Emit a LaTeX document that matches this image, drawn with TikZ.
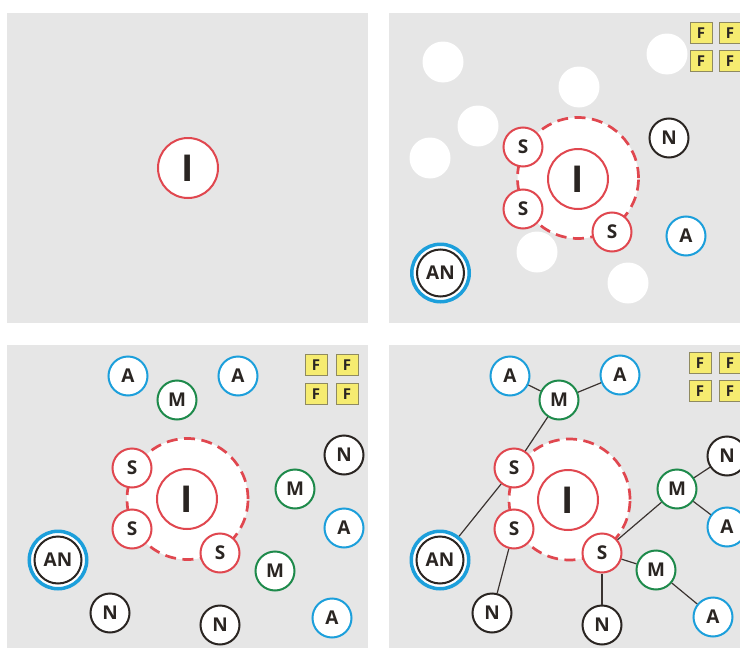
\documentclass[tikz,border=0pt]{standalone}
\usepackage{fontspec}
\setmainfont{Open Sans}
\definecolor{pbg}{HTML}{E6E6E6}
\definecolor{cred}{HTML}{E0474F}
\definecolor{cblue}{HTML}{1C9FDB}
\definecolor{cgreen}{HTML}{1E8A4B}
\definecolor{cblack}{HTML}{2A2522}
\definecolor{cyel}{HTML}{F6EC70}
\definecolor{cyelb}{HTML}{8F8A60}
\definecolor{linec}{HTML}{3A3330}
\begin{document}
\begin{tikzpicture}[x=1pt,y=-1pt,
  nd/.style={circle, fill=white, line width=2pt, minimum size=39pt, inner sep=0pt, text=cblack, font=\bfseries\fontsize{19}{19}\selectfont},
  sn/.style={nd, draw=cred},
  mn/.style={nd, draw=cgreen},
  anode/.style={nd, draw=cblue},
  nn/.style={nd, draw=cblack},
  inode/.style={nd, draw=cred, minimum size=60pt, font=\bfseries\fontsize{37}{37}\selectfont},
  ghost/.style={circle, fill=white, minimum size=41pt, inner sep=0pt},
  ann/.style={nd, draw=cblue, line width=3.5pt, minimum size=57.5pt},
  annin/.style={draw=cblack, line width=2pt},
  anlabel/.style={text=cblack, inner sep=0pt, font=\bfseries\fontsize{19}{19}\selectfont},
  fbox/.style={rectangle, fill=cyel, draw=cyelb, line width=0.8pt, minimum width=22pt, minimum height=21pt, inner sep=0pt, text=cblack, font=\bfseries\fontsize{15}{15}\selectfont},
  zone/.style={circle, draw=cred, fill=white, line width=2.7pt, dash pattern=on 11pt off 6.5pt, minimum size=121pt, inner sep=0pt},
  link/.style={draw=linec, line width=1.2pt},
  panel/.style={fill=pbg}
]
\useasboundingbox (0,0) rectangle (740,648);
\clip (0,0) rectangle (740,648);
% panels
\fill[panel] (7,13) rectangle (368,323);
\fill[panel] (389,13) rectangle (740,323);
\fill[panel] (7,345) rectangle (368,648);
\fill[panel] (389,345) rectangle (740,648);

% ---------- panel 1 ----------
\node[inode] (i1) at (188,168) {I};

% ---------- panel 2 ----------
\node[ghost] (g1) at (443,62) {};
\node[ghost] (g2) at (579,87) {};
\node[ghost] (g3) at (478,126) {};
\node[ghost] (g4) at (430,158) {};
\node[ghost] (g5) at (667,54) {};
\node[ghost] (g6) at (537,252) {};
\node[ghost] (g7) at (628,283) {};
\node[zone] (z2) at (578,178) {};
\node[inode] (i2) at (578,179) {I};
\node[sn] (s21) at (523,147) {S};
\node[sn] (s22) at (523,209) {S};
\node[sn] (s23) at (612,232) {S};
\node[nn] (n21) at (669,138) {N};
\node[anode] (a21) at (686,236) {A};
\node[ann] (an2) at (440.5,273) {};
\draw[annin] (an2) circle (23.5pt);
\node[anlabel] at (an2) {AN};
\node[fbox] (f21) at (701,33) {F};
\node[fbox] (f22) at (730,33) {F};
\node[fbox] (f23) at (701,61) {F};
\node[fbox] (f24) at (730,61) {F};

% ---------- panel 3 ----------
\node[zone] (z3) at (187.5,499) {};
\node[inode] (i3) at (187,499) {I};
\node[sn] (s31) at (132,468) {S};
\node[sn] (s32) at (132,529) {S};
\node[sn] (s33) at (220,553) {S};
\node[anode] (a31) at (128,376) {A};
\node[mn] (m31) at (177,400) {M};
\node[anode] (a32) at (238,376) {A};
\node[nn] (n31) at (344,455) {N};
\node[mn] (m32) at (295,489) {M};
\node[anode] (a33) at (344,528) {A};
\node[mn] (m33) at (275,571) {M};
\node[anode] (a34) at (332,618) {A};
\node[nn] (n32) at (110,613) {N};
\node[nn] (n33) at (220,625) {N};
\node[ann] (an3) at (58,560) {};
\draw[annin] (an3) circle (23.5pt);
\node[anlabel] at (an3) {AN};
\node[fbox] (f31) at (316,365) {F};
\node[fbox] (f32) at (347,365) {F};
\node[fbox] (f33) at (316,394) {F};
\node[fbox] (f34) at (347,394) {F};

% ---------- panel 4 ----------
\node[zone] (z4) at (569.5,499.5) {};
\node[inode] (i4) at (568,500) {I};
\node[sn] (s41) at (514,468) {S};
\node[sn] (s42) at (514,529) {S};
\node[sn] (s43) at (602,553) {S};
\node[anode] (a41) at (510,376) {A};
\node[mn] (m41) at (559,400) {M};
\node[anode] (a42) at (620,375) {A};
\node[nn] (n41) at (727,456) {N};
\node[mn] (m42) at (677,489) {M};
\node[anode] (a43) at (727,527) {A};
\node[mn] (m43) at (656,570) {M};
\node[anode] (a44) at (713,617) {A};
\node[nn] (n42) at (492,613) {N};
\node[nn] (n43) at (602,625) {N};
\node[ann] (an4) at (440,560) {};
\draw[annin] (an4) circle (23.5pt);
\node[anlabel] at (an4) {AN};
\node[fbox] (f41) at (700,363) {F};
\node[fbox] (f42) at (730,363) {F};
\node[fbox] (f43) at (700,391) {F};
\node[fbox] (f44) at (730,391) {F};

\draw[link] (a41) -- (m41);
\draw[link] (m41) -- (a42);
\draw[link] (m41) -- (s41);
\draw[link] (s41) -- (an4);
\draw[link] (s42) -- (n42);
\draw[link] (s43) -- (m42);
\draw[link] (m42) -- (n41);
\draw[link] (m42) -- (a43);
\draw[link] (s43) -- (m43);
\draw[link] (m43) -- (a44);
\draw[link] (s43) -- (n43);
\end{tikzpicture}
\end{document}
